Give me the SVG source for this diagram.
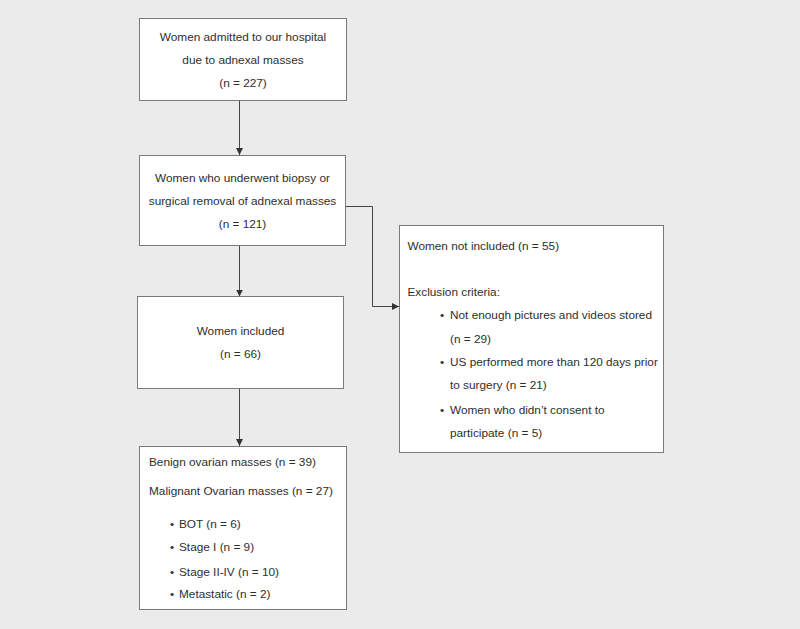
<svg xmlns="http://www.w3.org/2000/svg" width="800" height="629" viewBox="0 0 800 629">
<defs>
<style>
.bg{fill:#ebebeb}
.box{fill:#ffffff;stroke:#7a7a7a;stroke-width:1}
.t{font-family:"Liberation Sans",Arial,sans-serif;font-size:11.8px;fill:#2e2e2e}
.c{text-anchor:middle}
.ln{fill:none;stroke:#444444;stroke-width:1}
</style>
<marker id="ah" viewBox="0 0 10 10" refX="10" refY="5" markerWidth="7" markerHeight="7" orient="auto" markerUnits="userSpaceOnUse">
<path d="M0,0 L10,5 L0,10 Z" fill="#333333"/>
</marker>
</defs>
<rect class="bg" x="0" y="0" width="800" height="629"/>
<g id="connectors">
<line class="ln" x1="239.5" y1="101" x2="239.5" y2="155" marker-end="url(#ah)"/>
<line class="ln" x1="239.5" y1="246" x2="239.5" y2="296.5" marker-end="url(#ah)"/>
<line class="ln" x1="239.5" y1="389" x2="239.5" y2="446" marker-end="url(#ah)"/>
<polyline class="ln" points="345.5,206.5 372.5,206.5 372.5,306.5 399,306.5" marker-end="url(#ah)"/>
</g>
<g id="node1">
<rect class="box" x="139.5" y="18.5" width="207" height="82"/>
<text class="t c" x="243" y="41">Women admitted to our hospital</text>
<text class="t c" x="243" y="64">due to adnexal masses</text>
<text class="t c" x="243" y="87">(n = 227)</text>
</g>
<g id="node2">
<rect class="box" x="139.5" y="155.5" width="206" height="90"/>
<text class="t c" x="242.5" y="182">Women who underwent biopsy or</text>
<text class="t c" x="242.5" y="205">surgical removal of adnexal masses</text>
<text class="t c" x="242.5" y="227.5">(n = 121)</text>
</g>
<g id="node3">
<rect class="box" x="137.5" y="296.5" width="206" height="92"/>
<text class="t c" x="240.5" y="335">Women included</text>
<text class="t c" x="240.5" y="357.5">(n = 66)</text>
</g>
<g id="node4">
<rect class="box" x="139.5" y="446.5" width="207" height="163"/>
<text class="t" x="149" y="466">Benign ovarian masses (n = 39)</text>
<text class="t" x="149" y="495">Malignant Ovarian masses (n = 27)</text>
<text class="t" x="170" y="528">•</text><text class="t" x="179" y="528">BOT (n = 6)</text>
<text class="t" x="170" y="551">•</text><text class="t" x="179" y="551">Stage I (n = 9)</text>
<text class="t" x="170" y="575.5">•</text><text class="t" x="179" y="575.5">Stage II-IV (n = 10)</text>
<text class="t" x="170" y="598">•</text><text class="t" x="179" y="598">Metastatic (n = 2)</text>
</g>
<g id="node5">
<rect class="box" x="399.5" y="225.5" width="264" height="227"/>
<text class="t" x="407.5" y="250">Women not included (n = 55)</text>
<text class="t" x="407.5" y="296">Exclusion criteria:</text>
<text class="t" x="440" y="319">•</text><text class="t" x="450" y="319">Not enough pictures and videos stored</text>
<text class="t" x="450" y="342.5">(n = 29)</text>
<text class="t" x="440" y="366">•</text><text class="t" x="450" y="366">US performed more than 120 days prior</text>
<text class="t" x="450" y="389">to surgery (n = 21)</text>
<text class="t" x="440" y="413.5">•</text><text class="t" x="450" y="413.5">Women who didn’t consent to</text>
<text class="t" x="450" y="436.5">participate (n = 5)</text>
</g>
</svg>
